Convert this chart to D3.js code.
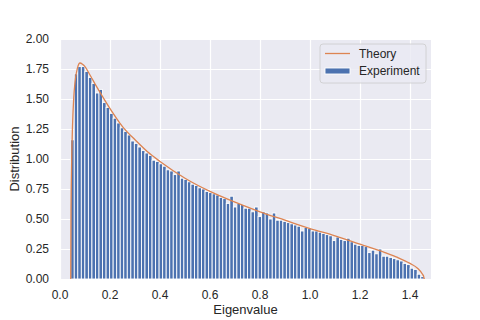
<!DOCTYPE html>
<html>
<head>
<meta charset="utf-8">
<script src="https://cdn.jsdelivr.net/npm/d3@7"></script>
<style>
  body { margin: 0; background: #fff; }
  text { font-family: "Liberation Sans", Arial, sans-serif; fill: #262626; }
</style>
</head>
<body>
<script>
// histogram of the eigenvalues (100 equal bins between histMin and histMax)
var histMin = 0.0429;
var histMax = 1.4571;
var counts = [
    1.16, 1.71, 1.77, 1.77, 1.73, 1.68, 1.63, 1.55, 1.58, 1.47,
    1.43, 1.38, 1.34, 1.30, 1.26, 1.23, 1.20, 1.15, 1.13, 1.10,
    1.07, 1.05, 1.03, 0.99, 0.98, 0.96, 0.94, 0.91, 0.90, 0.87,
    0.90, 0.84, 0.83, 0.81, 0.79, 0.78, 0.76, 0.75, 0.73, 0.72,
    0.71, 0.70, 0.68, 0.67, 0.63, 0.69, 0.60, 0.63, 0.62, 0.59,
    0.59, 0.56, 0.60, 0.52, 0.56, 0.55, 0.50, 0.55, 0.49, 0.49,
    0.48, 0.47, 0.46, 0.45, 0.44, 0.40, 0.43, 0.42, 0.40, 0.40,
    0.39, 0.38, 0.37, 0.36, 0.32, 0.35, 0.33, 0.32, 0.34, 0.31,
    0.29, 0.28, 0.28, 0.27, 0.22, 0.24, 0.21, 0.25, 0.19, 0.19,
    0.18, 0.17, 0.16, 0.15, 0.13, 0.12, 0.09, 0.08, 0.04, 0.02
];

// theory curve
var theoryX = [0.0429, 0.044, 0.045, 0.0475, 0.05, 0.055, 0.06, 0.07, 0.08, 0.09,
    0.10, 0.12, 0.15, 0.20, 0.25, 0.30, 0.35, 0.40, 0.50, 0.60, 0.70, 0.80,
    0.90, 1.00, 1.10, 1.20, 1.30, 1.35, 1.40, 1.43, 1.45, 1.455, 1.457];
var theoryY = [0, 0.57, 0.77, 1.08, 1.27, 1.51, 1.64, 1.76, 1.80, 1.79,
    1.77, 1.70, 1.59, 1.42, 1.27, 1.16, 1.06, 0.98, 0.84, 0.73, 0.64, 0.56,
    0.49, 0.42, 0.36, 0.29, 0.22, 0.18, 0.13, 0.09, 0.04, 0.02, 0];

var xTicks = [0.0, 0.2, 0.4, 0.6, 0.8, 1.0, 1.2, 1.4];
var yTicks = [0, 0.25, 0.5, 0.75, 1.0, 1.25, 1.5, 1.75, 2.0];
var legendLabels = ['Theory', 'Experiment'];

var blue = '#4c72b0';
var orange = '#dd8452';

window.document.addEventListener('DOMContentLoaded', init, false);

function init() {
    var canvas = createCanvas(480, 320);
    var area = {left: 60, right: 431, top: 39, bottom: 279};

    var x = d3.scaleLinear().domain([0, 1.484]).range([area.left, area.right]);
    var y = d3.scaleLinear().domain([0, 2.0]).range([area.bottom, area.top]);

    drawBackground(canvas, area, x, y);
    drawBars(canvas, x, y);
    drawTheory(canvas, x, y);
    drawAxes(canvas, area, x, y);
    drawLegend(canvas);
}

function createCanvas(width, height) {
    return d3.select('body')
        .append('svg')
        .attr('width', width)
        .attr('height', height);
}

function drawBackground(canvas, area, x, y) {
    canvas.append('rect')
        .attr('x', area.left)
        .attr('y', area.top)
        .attr('width', area.right - area.left)
        .attr('height', area.bottom - area.top)
        .attr('fill', '#eaeaf2');

    canvas.append('g')
        .attr('transform', `translate(0,${area.bottom})`)
        .call(d3.axisBottom(x).tickValues(xTicks).tickSize(-(area.bottom - area.top)).tickFormat(''))
        .call((g) => g.select('.domain').remove())
        .selectAll('line')
            .attr('stroke', '#fff')
            .attr('stroke-width', 1.2);

    canvas.append('g')
        .attr('transform', `translate(${area.left},0)`)
        .call(d3.axisLeft(y).tickValues(yTicks).tickSize(-(area.right - area.left)).tickFormat(''))
        .call((g) => g.select('.domain').remove())
        .selectAll('line')
            .attr('stroke', '#fff')
            .attr('stroke-width', 1.2);
}

function drawBars(canvas, x, y) {
    var step = (histMax - histMin) / counts.length;

    canvas.append('g')
        .selectAll('rect')
        .data(counts)
        .enter()
            .append('rect')
            .attr('x', (d, i) => x(histMin + i * step))
            .attr('y', (d) => y(d))
            .attr('width', (d, i) => x(histMin + (i + 1) * step) - x(histMin + i * step))
            .attr('height', (d) => y(0) - y(d))
            .attr('fill', blue)
            .attr('stroke', '#fff')
            .attr('stroke-width', 0.9);
}

function drawTheory(canvas, x, y) {
    var points = theoryX.map((v, i) => [v, theoryY[i]]);
    var line = d3.line()
        .x((d) => x(d[0]))
        .y((d) => y(d[1]))
        .curve(d3.curveMonotoneX);

    canvas.append('path')
        .attr('fill', 'none')
        .attr('stroke', orange)
        .attr('stroke-width', 1.3)
        .attr('d', line(points));
}

function drawAxes(canvas, area, x, y) {
    canvas.append('g')
        .selectAll('text')
        .data(xTicks)
        .enter()
            .append('text')
            .attr('x', (d) => x(d))
            .attr('y', 299)
            .attr('font-size', 12)
            .style('text-anchor', 'middle')
            .text((d) => d.toFixed(1));

    canvas.append('g')
        .selectAll('text')
        .data(yTicks)
        .enter()
            .append('text')
            .attr('x', 49)
            .attr('y', (d) => y(d))
            .attr('dy', '.35em')
            .attr('font-size', 12)
            .style('text-anchor', 'end')
            .text((d) => d.toFixed(2));

    canvas.append('text')
        .attr('x', (area.left + area.right) / 2)
        .attr('y', 314)
        .attr('font-size', 13)
        .style('text-anchor', 'middle')
        .text('Eigenvalue');

    canvas.append('text')
        .attr('transform', `translate(19,${(area.top + area.bottom) / 2}) rotate(-90)`)
        .attr('font-size', 13)
        .style('text-anchor', 'middle')
        .text('Distribution');
}

function drawLegend(canvas) {
    var legend = canvas.append('g')
        .attr('transform', 'translate(320,44)');

    legend.append('rect')
        .attr('width', 106)
        .attr('height', 39)
        .attr('rx', 3)
        .attr('fill', '#eaeaf2')
        .attr('fill-opacity', 0.8)
        .attr('stroke', '#cccccc')
        .attr('stroke-width', 0.8);

    legend.append('line')
        .attr('x1', 5)
        .attr('x2', 30)
        .attr('y1', 9.5)
        .attr('y2', 9.5)
        .attr('stroke', orange)
        .attr('stroke-width', 1.3);

    legend.append('rect')
        .attr('x', 5)
        .attr('y', 24)
        .attr('width', 25)
        .attr('height', 6)
        .attr('fill', blue)
        .attr('stroke', '#fff')
        .attr('stroke-width', 0.9);

    legend.selectAll('.label')
        .data(legendLabels)
        .enter()
            .append('text')
            .attr('class', 'label')
            .attr('x', 39)
            .attr('y', (d, i) => 14 + i * 17)
            .attr('font-size', 12)
            .text((d) => d);
}
</script>
</body>
</html>
